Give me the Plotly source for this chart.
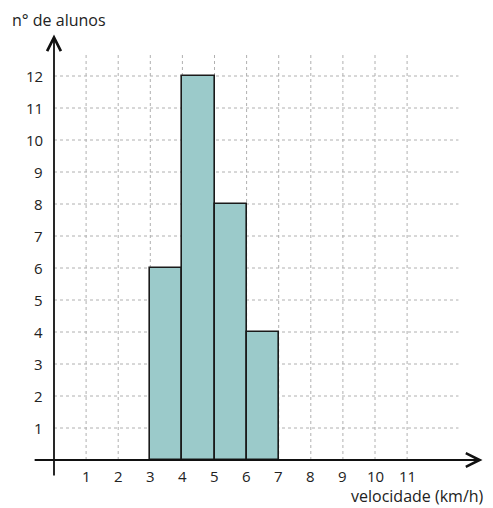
import plotly.graph_objects as go

# histogram data
bin_edges = [3, 4, 5, 6, 7]
counts = [6, 12, 8, 4]
x_ticks = [1, 2, 3, 4, 5, 6, 7, 8, 9, 10, 11]
y_ticks = [1, 2, 3, 4, 5, 6, 7, 8, 9, 10, 11, 12]
x_title = "velocidade (km/h)"
y_title = "n° de alunos"

centers = [(bin_edges[i] + bin_edges[i + 1]) / 2 for i in range(len(counts))]
widths = [bin_edges[i + 1] - bin_edges[i] for i in range(len(counts))]

fig = go.Figure()

# dotted grid
for xv in x_ticks:
    fig.add_shape(type="line", x0=xv, x1=xv, y0=0, y1=12.7,
                  line=dict(color="#b0b0b0", width=1, dash="dot"), layer="below")
for yv in y_ticks:
    fig.add_shape(type="line", x0=0, x1=12.6, y0=yv, y1=yv,
                  line=dict(color="#b0b0b0", width=1, dash="dot"), layer="below")

fig.add_trace(go.Bar(x=centers, y=counts, width=widths,
                     marker=dict(color="#9bcaca", line=dict(color="#1a1a1a", width=1.6)),
                     hoverinfo="x+y"))

# axes with arrows
fig.add_annotation(x=13.35, y=0, ax=-0.65, ay=0, xref="x", yref="y", axref="x", ayref="y",
                   text="", showarrow=True, arrowhead=5, arrowsize=1.5, arrowwidth=1.8,
                   arrowcolor="#111")
fig.add_annotation(x=0, y=13.3, ax=0, ay=-0.53, xref="x", yref="y", axref="x", ayref="y",
                   text="", showarrow=True, arrowhead=5, arrowsize=1.5, arrowwidth=1.8,
                   arrowcolor="#111")

# tick labels
for xv in x_ticks:
    fig.add_annotation(x=xv, y=-0.5, text=str(xv), showarrow=False, borderpad=0,
                       font=dict(size=15, color="#222"), xanchor="center", yanchor="middle")
for yv in y_ticks:
    fig.add_annotation(x=-0.3, y=yv, text=str(yv), showarrow=False, borderpad=0,
                       font=dict(size=15, color="#222"), xanchor="right", yanchor="middle")

fig.add_annotation(x=-1.33, y=13.75, text=y_title, showarrow=False, borderpad=0,
                   font=dict(size=16, color="#222"), xanchor="left", yanchor="middle")
fig.add_annotation(x=13.42, y=-1.13, text=x_title, showarrow=False, borderpad=0,
                   font=dict(size=16, color="#222"), xanchor="right", yanchor="middle")

# page body adds an 8px margin, so the figure is 8px smaller and ranges shifted
fig.update_xaxes(range=[(8 - 54) / 32.1, (493 - 54) / 32.1], visible=False, fixedrange=True)
fig.update_yaxes(range=[-48 / 32, (460 - 8) / 32], visible=False, fixedrange=True)
fig.update_layout(width=485, height=500, margin=dict(l=0, r=0, t=0, b=0),
                  plot_bgcolor="white", paper_bgcolor="white", showlegend=False,
                  font=dict(family="Open Sans"), bargap=0)

fig.write_html("out.html")
